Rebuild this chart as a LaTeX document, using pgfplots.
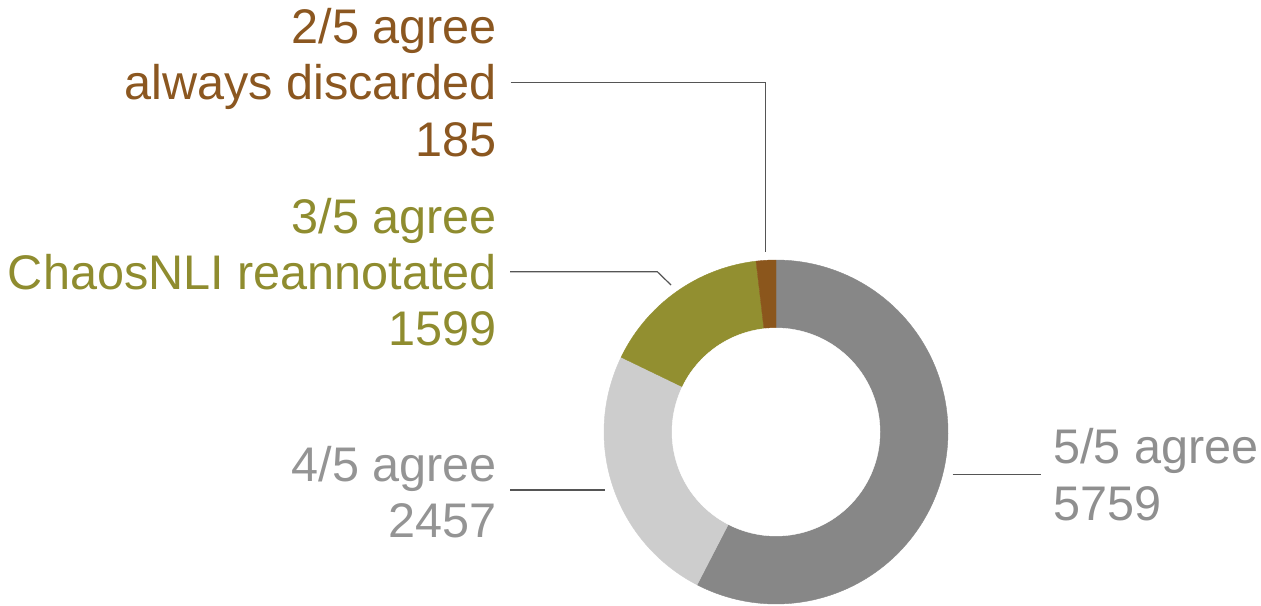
\documentclass[border=0pt]{standalone}
\usepackage{pgfplots}
\usepackage{pgfplotstable}
\pgfplotsset{compat=1.18}
\usepackage{fontspec}
\setmainfont{Liberation Sans}
\definecolor{cfive}{HTML}{878787}
\definecolor{cfour}{HTML}{CDCDCD}
\definecolor{cthree}{HTML}{928F30}
\definecolor{ctwo}{HTML}{8B561C}
\definecolor{tfive}{HTML}{8F8F8F}
\definecolor{tfour}{HTML}{949494}
\definecolor{tthree}{HTML}{8F8C2F}
\definecolor{ttwo}{HTML}{8B5720}
\definecolor{leader}{HTML}{555555}

\pgfplotstableread{
group value
5 5759
4 2457
3 1599
2 185
}\donutdata

\begin{document}%
\begin{tikzpicture}
\pgfplotstablegetelem{0}{value}\of\donutdata \let\vA\pgfplotsretval
\pgfplotstablegetelem{1}{value}\of\donutdata \let\vB\pgfplotsretval
\pgfplotstablegetelem{2}{value}\of\donutdata \let\vC\pgfplotsretval
\pgfplotstablegetelem{3}{value}\of\donutdata \let\vD\pgfplotsretval
\pgfmathsetmacro\total{\vA+\vB+\vC+\vD}
\pgfmathsetmacro\aZero{90}
\pgfmathsetmacro\aOne{\aZero-360*(\vA/\total)}
\pgfmathsetmacro\aTwo{\aOne-360*(\vB/\total)}
\pgfmathsetmacro\aThree{\aTwo-360*(\vC/\total)}
\pgfmathsetmacro\aFour{\aThree-360*(\vD/\total)}
\def\cx{776}\def\cy{173}\def\R{172}\def\r{104}
\begin{axis}[
  x=0.5pt, y=0.5pt,
  xmin=0, xmax=1261, ymin=0, ymax=605,
  hide axis, clip=false, no markers,
  samples=120,
]
\path (axis cs:0,0) rectangle (axis cs:1261,605);
\addplot[fill=cfive, draw=cfive, line width=0.2pt, domain=\aOne:\aZero]
  ({\cx+\R*cos(x)}, {\cy+\R*sin(x)}) -- (axis cs:\cx,\cy) -- cycle;
\addplot[fill=cfour, draw=cfour, line width=0.2pt, domain=\aTwo:\aOne]
  ({\cx+\R*cos(x)}, {\cy+\R*sin(x)}) -- (axis cs:\cx,\cy) -- cycle;
\addplot[fill=cthree, draw=cthree, line width=0.2pt, domain=\aThree:\aTwo]
  ({\cx+\R*cos(x)}, {\cy+\R*sin(x)}) -- (axis cs:\cx,\cy) -- cycle;
\addplot[fill=ctwo, draw=ctwo, line width=0.2pt, domain=\aFour:\aThree, samples=10]
  ({\cx+\R*cos(x)}, {\cy+\R*sin(x)}) -- (axis cs:\cx,\cy) -- cycle;
\addplot[fill=white, draw=white, line width=0.2pt, domain=0:360, samples=150]
  ({\cx+\r*cos(x)}, {\cy+\r*sin(x)}) -- cycle;

% leader lines
\draw[leader, line width=0.6pt] (axis cs:510.7,522.3) -- (axis cs:765.7,522.3) -- (axis cs:765.7,353.3);
\draw[leader, line width=0.6pt] (axis cs:510,333.3) -- (axis cs:657.3,333.3) -- (axis cs:671,320);
\draw[leader, line width=0.6pt] (axis cs:510,115) -- (axis cs:605,115);
\draw[leader, line width=0.6pt] (axis cs:952.7,130.7) -- (axis cs:1041,130.7);

% labels
\tikzset{lab/.style={inner sep=0pt, outer sep=0pt, font=\fontsize{24.3}{28}\selectfont}}
\node[lab, anchor=base east, text=ttwo] at (axis cs:497,561.7) {2/5 agree};
\node[lab, anchor=base east, text=ttwo] at (axis cs:497,505) {always discarded};
\node[lab, anchor=base east, text=ttwo] at (axis cs:497,448.7) {185};
\node[lab, anchor=base east, text=tthree] at (axis cs:497,371.7) {3/5 agree};
\node[lab, anchor=base east, text=tthree] at (axis cs:497,315) {ChaosNLI reannotated};
\node[lab, anchor=base east, text=tthree] at (axis cs:497,259) {1599};
\node[lab, anchor=base east, text=tfour] at (axis cs:497,124) {4/5 agree};
\node[lab, anchor=base east, text=tfour] at (axis cs:497,67.7) {2457};
\node[lab, anchor=base west, text=tfive] at (axis cs:1053,141.7) {5/5 agree};
\node[lab, anchor=base west, text=tfive] at (axis cs:1053,85) {5759};
\end{axis}
\end{tikzpicture}%
\end{document}
